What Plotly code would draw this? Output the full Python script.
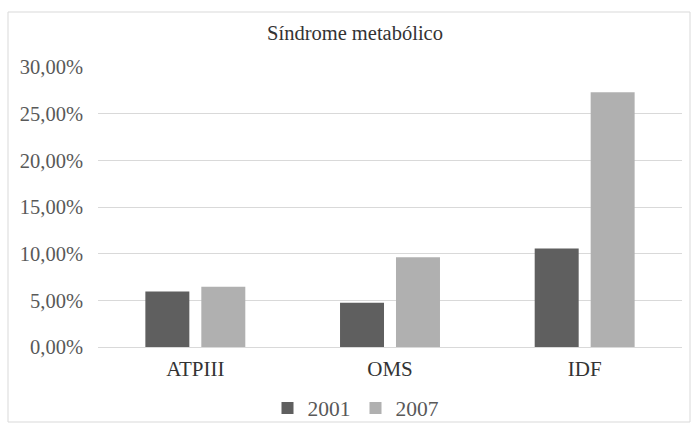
import plotly.graph_objects as go

categories = ["ATPIII", "OMS", "IDF"]
series_names = ["2001", "2007"]
values_2001 = [0.0594, 0.0475, 0.1055]
values_2007 = [0.0645, 0.0961, 0.2729]
y_ticks = [0, 0.05, 0.10, 0.15, 0.20, 0.25, 0.30]
title_text = "Síndrome metabólico"

FONT = "Liberation Serif, Times New Roman, serif"
TXT = "#595959"

fig = go.Figure()
fig.add_trace(go.Bar(x=categories, y=values_2001, name=series_names[0],
                     marker=dict(color="#5f5f5f", line=dict(width=0))))
fig.add_trace(go.Bar(x=categories, y=values_2007, name=series_names[1],
                     marker=dict(color="#b0b0b0", line=dict(width=0))))

L, R, T, B = 98, 10, 67, 83
W, H = 692, 430
pw = W - L - R
ph = H - T - B

def px_x(px):
    return (px - L) / pw

def px_y(py):
    return (H - B - py) / ph

fig.update_layout(
    width=W, height=H,
    margin=dict(l=L, r=R, t=T, b=B, autoexpand=False),
    paper_bgcolor="white", plot_bgcolor="white",
    separators=",.",
    barmode="group", bargap=0.425, bargroupgap=0.214,
    title=dict(text=title_text, x=355 / W, xanchor="center",
               y=1 - 33 / H, yanchor="middle",
               font=dict(family=FONT, size=20.5, color="#333333")),
    font=dict(family=FONT, size=20, color=TXT),
    showlegend=True,
    legend=dict(orientation="h", x=px_x(356), xanchor="center",
                y=px_y(408), yanchor="middle",
                font=dict(family=FONT, size=21.5, color=TXT),
                itemwidth=30, tracegroupgap=0,
                bgcolor="rgba(0,0,0,0)"),
    xaxis=dict(showgrid=False, showline=False, ticks="",
               tickfont=dict(family=FONT, size=21, color="#333333"),
               ticklabelstandoff=7),
    yaxis=dict(range=[0, 0.30], tickvals=y_ticks, tickformat=".2%",
               showgrid=True, gridcolor="#d9d9d9", gridwidth=1,
               zeroline=True, zerolinecolor="#d9d9d9", zerolinewidth=1,
               showline=False, ticks="",
               tickfont=dict(family=FONT, size=20.5, color=TXT),
               ticklabelstandoff=14),
    shapes=[dict(type="rect", xref="paper", yref="paper",
                 x0=px_x(8), x1=px_x(690), y0=px_y(422), y1=px_y(12),
                 line=dict(color="#d9d9d9", width=1), fillcolor="rgba(0,0,0,0)",
                 layer="below")],
)

fig.write_html("out.html",
               config={"displayModeBar": False},
               post_script="document.body.style.margin='0';document.body.style.overflow='hidden';")
